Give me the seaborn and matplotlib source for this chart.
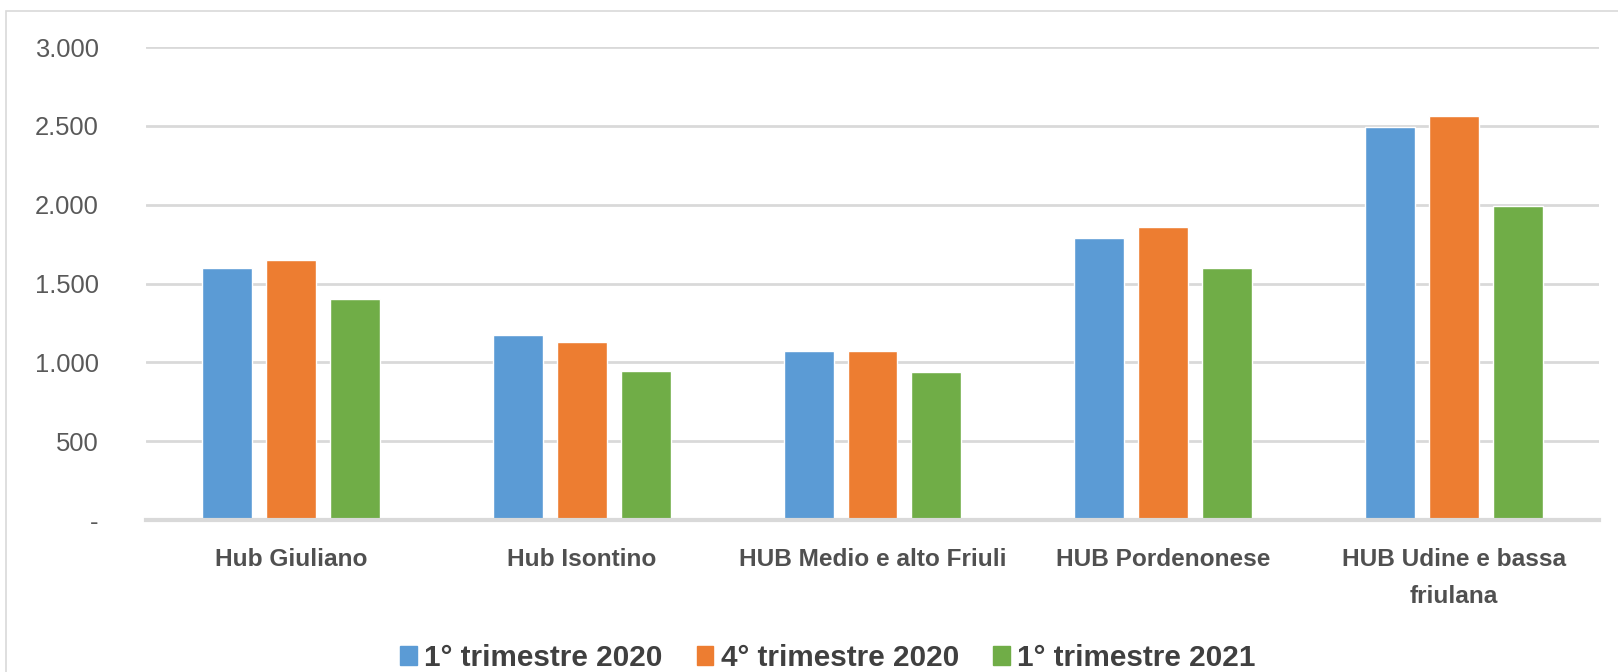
import matplotlib
matplotlib.use("Agg")
import matplotlib.pyplot as plt
import seaborn as sns
import pandas as pd
from matplotlib.ticker import FuncFormatter
from matplotlib.patches import Rectangle

# Dati
hub = ['Hub Giuliano', 'Hub Isontino', 'HUB Medio e alto Friuli',
       'HUB Pordenonese', 'HUB Udine e bassa\nfriulana']
periodi = ['1° trimestre 2020', '4° trimestre 2020', '1° trimestre 2021']
trim1_2020 = [1600, 1175, 1070, 1790, 2490]
trim4_2020 = [1650, 1130, 1070, 1860, 2565]
trim1_2021 = [1400, 945, 940, 1600, 1990]

cores = ['#5B9BD5', '#ED7D31', '#70AD47']

df = pd.DataFrame({
    'hub': hub * 3,
    'periodo': [periodi[0]] * 5 + [periodi[1]] * 5 + [periodi[2]] * 5,
    'valore': trim1_2020 + trim4_2020 + trim1_2021,
})

sns.set_theme(style='white')
plt.rcParams['font.family'] = ['Liberation Sans', 'DejaVu Sans']

fig = plt.figure(figsize=(16.18, 6.72), dpi=100)
ax = fig.add_axes([146 / 1618, 1 - 520 / 672, (1599 - 146) / 1618, (520 - 47) / 672])

sns.barplot(data=df, x='hub', y='valore', hue='periodo', palette=cores,
            width=0.66, gap=0.22, saturation=1, ax=ax, legend=False)

ax.set_ylim(0, 3000)
ax.set_xlim(-0.5, 4.5)
ax.set_yticks(range(0, 3001, 500))
ax.yaxis.set_major_formatter(FuncFormatter(
    lambda v, p: '-' if v == 0 else f'{int(v):,}'.replace(',', '.')))
ax.grid(axis='y', color='#D9D9D9', linewidth=2.0)
ax.set_axisbelow(True)
for s in ['top', 'right', 'left']:
    ax.spines[s].set_visible(False)
ax.spines['bottom'].set_color('#D9D9D9')
ax.spines['bottom'].set_linewidth(3)
ax.set_xlabel('')
ax.set_ylabel('')
ax.tick_params(axis='y', length=0, pad=34, labelsize=18.4, labelcolor='#595959')
ax.tick_params(axis='x', length=0, pad=20, labelsize=17.6, labelcolor='#505050')
for t in ax.get_xticklabels():
    t.set_fontweight('bold')
    t.set_linespacing(1.8)
    t.set_verticalalignment('top')

# legenda
handles = [Rectangle((0, 0), 1, 1, color=c) for c in cores]
fig.legend(handles, periodi, loc='center', bbox_to_anchor=(828 / 1618, 1 - 658 / 672),
           ncol=3, frameon=False, prop={'size': 21.4, 'weight': 'bold'},
           handlelength=0.56, handleheight=0.56, handletextpad=0.25,
           columnspacing=1.15, labelcolor='#404040')

# bordo
fig.patches.append(Rectangle((6 / 1618, -0.1), 1.2, 1.1 - 11 / 672, transform=fig.transFigure,
                             fill=False, edgecolor='#D9D9D9', linewidth=1.2))

fig.savefig('out.png', dpi=100, facecolor='white')
